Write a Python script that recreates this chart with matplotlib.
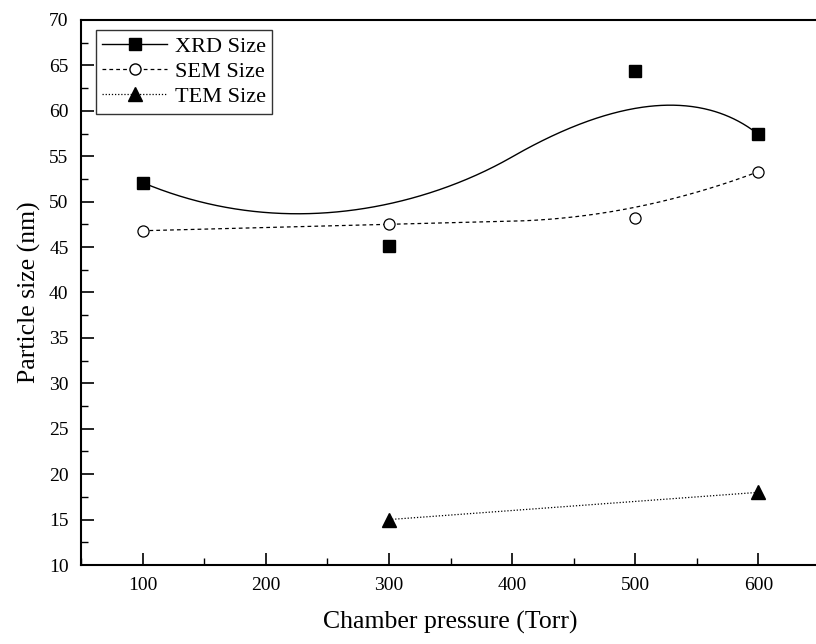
import numpy as np
import matplotlib
matplotlib.use("Agg")
import matplotlib.pyplot as plt
from matplotlib.ticker import MultipleLocator
from math import comb

# ---- data ----
pressure = [100, 300, 500, 600]
xrd_size = [52.1, 45.1, 64.4, 57.4]
sem_size = [46.8, 47.5, 48.2, 53.3]
tem_pressure = [300, 600]
tem_size = [15.0, 18.0]

x_ticks = [100, 200, 300, 400, 500, 600]
y_ticks = [10, 15, 20, 25, 30, 35, 40, 45, 50, 55, 60, 65, 70]


def quad_bspline(xs, ys, n=600):
    """Clamped quadratic B-spline using the data points as control points."""
    P = np.column_stack([np.asarray(xs, float), np.asarray(ys, float)])
    m, degree = len(P), 2
    inner = np.linspace(0, 1, m - degree + 1)[1:-1]
    knots = np.concatenate([np.zeros(degree + 1), inner, np.ones(degree + 1)])
    t = np.linspace(0, 1 - 1e-9, n)

    def basis(i, k):
        if k == 0:
            return ((knots[i] <= t) & (t < knots[i + 1])).astype(float)
        out = np.zeros_like(t)
        d1 = knots[i + k] - knots[i]
        d2 = knots[i + k + 1] - knots[i + 1]
        if d1 > 0:
            out += (t - knots[i]) / d1 * basis(i, k - 1)
        if d2 > 0:
            out += (knots[i + k + 1] - t) / d2 * basis(i + 1, k - 1)
        return out

    B = np.array([basis(i, degree) for i in range(m)])
    c = B.T @ P
    return c[:, 0], c[:, 1]


def bezier(xs, ys, gain=0.95, n=600):
    xs = np.asarray(xs, float)
    ys = np.asarray(ys, float)
    line = ys[0] + (ys[-1] - ys[0]) * (xs - xs[0]) / (xs[-1] - xs[0])
    cy = ys + gain * (ys - line)
    t = np.linspace(0, 1, n)
    k = len(xs) - 1
    B = np.array([comb(k, i) * t**i * (1 - t)**(k - i) for i in range(k + 1)])
    return B.T @ xs, B.T @ cy


def smooth_curve(xs, ys, w=0.5, n=400):
    """Smooth B-spline style connecting curve (as drawn by the plotting program)."""
    grid = np.linspace(xs[0], xs[-1], n)
    qx, qy = quad_bspline(xs, ys)
    bx, by = bezier(xs, ys)
    return grid, w * np.interp(grid, qx, qy) + (1 - w) * np.interp(grid, bx, by)


plt.rcParams['font.family'] = ['Liberation Serif', 'DejaVu Serif']

fig = plt.figure(figsize=(8.16, 6.44), dpi=100)
ax = fig.add_axes([81/816, 1 - 565/644, (820 - 81)/816, (565 - 20)/644])

cx, cy = smooth_curve(pressure, xrd_size, w=0.5)
ax.plot(cx, cy, color='black', lw=1.0)
sx, sy = smooth_curve(pressure, sem_size, w=1.0)
ax.plot(sx, sy, color='black', lw=0.9, dashes=(3, 2.5))
ax.plot(tem_pressure, tem_size, color='black', lw=0.9, dashes=(1, 1.5))

ax.plot(pressure, xrd_size, 's', color='black', ms=8, ls='none')
ax.plot(pressure, sem_size, 'o', mfc='white', mec='black', mew=0.9, ms=8, ls='none')
ax.plot(tem_pressure, tem_size, '^', color='black', ms=10, ls='none')

# legend proxies
h1, = ax.plot([], [], color='black', lw=1.0, marker='s', ms=8)
h2, = ax.plot([], [], color='black', lw=0.9, dashes=(3, 2.5), marker='o', mfc='white', mec='black', ms=8)
h3, = ax.plot([], [], color='black', lw=0.9, dashes=(1, 1.5), marker='^', ms=10)
leg = ax.legend([h1, h2, h3], ['XRD Size', 'SEM Size', 'TEM Size'],
                loc='upper left', bbox_to_anchor=(0.02, 0.982), borderaxespad=0,
                fontsize=16, frameon=True, fancybox=False, edgecolor='black',
                handlelength=2.9, handletextpad=0.35, labelspacing=0.2, borderpad=0.3)
leg.get_frame().set_linewidth(1.0)

ax.set_xlim(50, 650)
ax.set_ylim(10, 70)
ax.set_xticks(x_ticks)
ax.set_yticks(y_ticks)
ax.xaxis.set_minor_locator(MultipleLocator(50))
ax.yaxis.set_minor_locator(MultipleLocator(2.5))
ax.tick_params(which='major', direction='in', length=9, width=1.2, labelsize=14, pad=9)
ax.tick_params(which='minor', direction='in', length=5, width=1.0)
ax.tick_params(axis='y', pad=9)
for s in ax.spines.values():
    s.set_linewidth(1.5)

ax.set_xlabel('Chamber pressure (Torr)', fontsize=18.5, labelpad=12)
ax.set_ylabel('Particle size (nm)', fontsize=18.5, labelpad=6)

fig.savefig('out.png', dpi=100)
